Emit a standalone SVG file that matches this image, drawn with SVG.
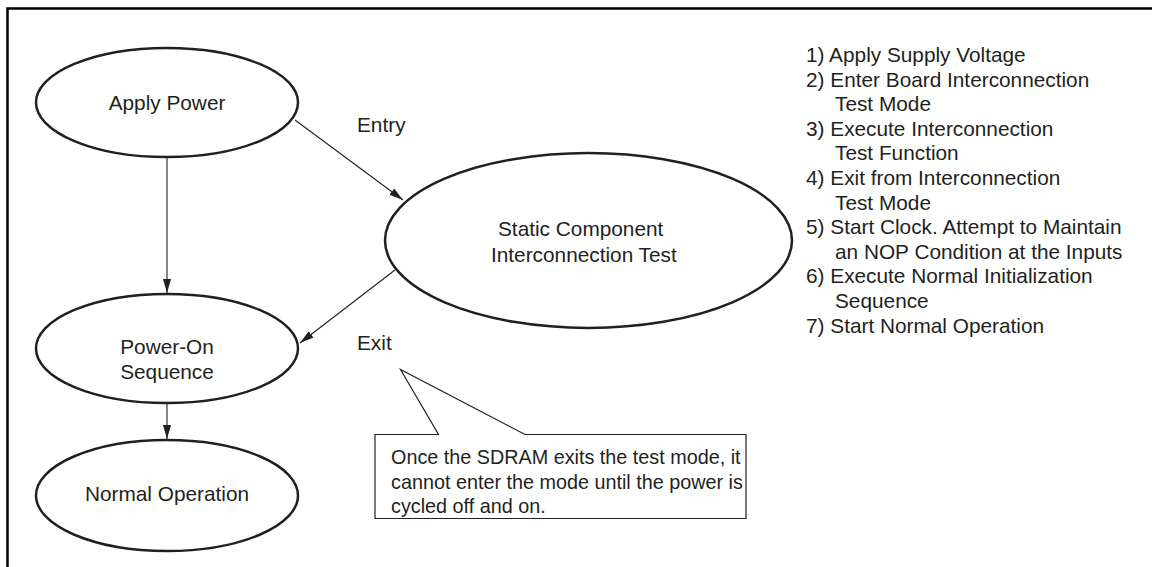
<svg xmlns="http://www.w3.org/2000/svg" width="1152" height="567" viewBox="0 0 1152 567">
<defs>
<style>
text{font-family:"Liberation Sans",Arial,sans-serif;font-size:20.8px;fill:#231f20}
.node{fill:#fff;stroke:#231f20;stroke-width:2.5}
.conn{stroke:#231f20;stroke-width:1.1;fill:none}
.mid{text-anchor:middle}
.note{font-size:19.8px}
</style>
<marker id="arr" viewBox="0 0 14 8" refX="14" refY="4" markerWidth="14" markerHeight="8" markerUnits="userSpaceOnUse" orient="auto">
<path d="M0,0 L14,4 L0,8 Z" fill="#231f20"/>
</marker>
</defs>
<rect width="1152" height="567" fill="#fff"/>
<path d="M7.5,567 V8.5 H1152" fill="none" stroke="#000" stroke-width="2.5"/>
<g id="connectors">
<line class="conn" x1="167" y1="157" x2="167" y2="293" marker-end="url(#arr)"/>
<line class="conn" x1="295" y1="120" x2="403" y2="200" marker-end="url(#arr)"/>
<line class="conn" x1="395" y1="270" x2="300" y2="343" marker-end="url(#arr)"/>
<line class="conn" x1="167" y1="403" x2="167" y2="439" marker-end="url(#arr)"/>
<text x="357" y="131.5">Entry</text>
<text x="357" y="350">Exit</text>
</g>
<g id="apply-power">
<ellipse class="node" cx="167" cy="102.5" rx="131" ry="54.5"/>
<text class="mid" x="167" y="109.5">Apply Power</text>
</g>
<g id="static-test">
<ellipse class="node" cx="588.5" cy="240.5" rx="203.5" ry="87.5"/>
<text x="498" y="236">Static Component</text>
<text x="491" y="261.5">Interconnection Test</text>
</g>
<g id="power-on">
<ellipse class="node" cx="167" cy="348.5" rx="131" ry="54.5"/>
<text class="mid" x="167" y="354">Power-On</text>
<text class="mid" x="167" y="379">Sequence</text>
</g>
<g id="normal-op">
<ellipse class="node" cx="167" cy="495.5" rx="131" ry="55.5"/>
<text class="mid" x="167" y="501">Normal Operation</text>
</g>
<g id="callout">
<path d="M375,434.5 H438.5 L400.5,369.5 L525,434.5 H746 V518.5 H375 Z" fill="#fff" stroke="#231f20" stroke-width="1.2"/>
<text class="note" x="391" y="464">Once the SDRAM exits the test mode, it</text>
<text class="note" x="391" y="488.5">cannot enter the mode until the power is</text>
<text class="note" x="391" y="512.5">cycled off and on.</text>
</g>
<g id="steps">
<text x="806" y="62">1) Apply Supply Voltage</text>
<text x="806" y="86.6">2) Enter Board Interconnection</text>
<text x="835" y="111.2">Test Mode</text>
<text x="806" y="135.8">3) Execute Interconnection</text>
<text x="835" y="160.4">Test Function</text>
<text x="806" y="185">4) Exit from Interconnection</text>
<text x="835" y="209.6">Test Mode</text>
<text x="806" y="234.2">5) Start Clock. Attempt to Maintain</text>
<text x="835" y="258.8">an NOP Condition at the Inputs</text>
<text x="806" y="283.4">6) Execute Normal Initialization</text>
<text x="835" y="308">Sequence</text>
<text x="806" y="332.6">7) Start Normal Operation</text>
</g>
</svg>
